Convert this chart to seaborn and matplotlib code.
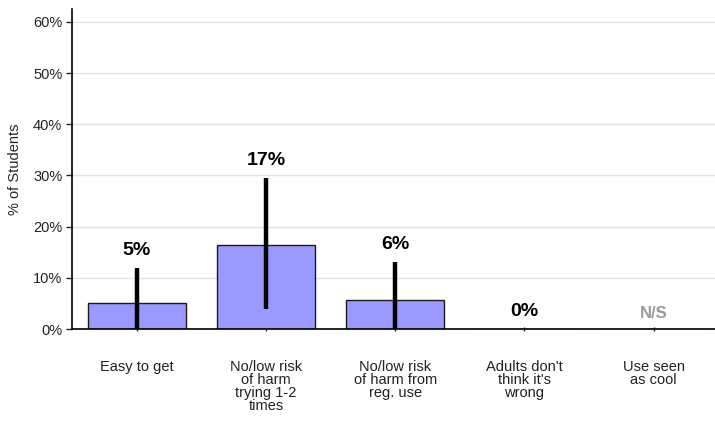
import matplotlib
matplotlib.use("Agg")
import matplotlib.pyplot as plt
import seaborn as sns
import pandas as pd

categories = ["Easy to get",
              "No/low risk\nof harm\ntrying 1-2\ntimes",
              "No/low risk\nof harm from\nreg. use",
              "Adults don't\nthink it's\nwrong",
              "Use seen\nas cool"]
values = [5.0, 16.5, 5.7, 0.0, 0.0]
err_low = [0.0, 3.9, 0.0, 0.0, 0.0]
err_high = [11.9, 29.4, 13.1, 0.0, 0.0]
bar_labels = ["5%", "17%", "6%", "0%", "N/S"]
has_error = [True, True, True, False, False]

df = pd.DataFrame({"category": categories, "value": values})

sns.set_style("white")
plt.rcParams["font.family"] = ["Liberation Sans", "DejaVu Sans"]

fig = plt.figure(figsize=(7.15, 4.21), dpi=100)
ax = fig.add_axes([0.1007, 0.2185, 0.904, 0.7601])

sns.barplot(data=df, x="category", y="value", color="#9999FF",
            saturation=1, width=0.76, edgecolor="#1a1a1a", linewidth=1,
            errorbar=None, ax=ax, zorder=2)

for i in range(len(categories)):
    if has_error[i]:
        ax.vlines(i, err_low[i], err_high[i], color="black", lw=3.2, zorder=3)
    top = max(values[i], err_high[i])
    if bar_labels[i] == "N/S":
        ax.annotate(bar_labels[i], (i, top), xytext=(0, 6), textcoords="offset points",
                    ha="center", va="bottom", fontsize=12, fontweight="bold", color="#999999")
    else:
        ax.annotate(bar_labels[i], (i, top), xytext=(0, 6.5), textcoords="offset points",
                    ha="center", va="bottom", fontsize=14, fontweight="bold", color="black")

ax.set_xlim(-0.5, 4.5)
ax.set_ylim(0, 62.5)
ax.set_yticks(range(0, 61, 10))
ax.set_yticklabels([f"{t}%" for t in range(0, 61, 10)], fontsize=10.5)
ax.set_xticks(range(len(categories)))
ax.set_xticklabels(categories, fontsize=10.5, linespacing=0.9)
ax.set_xlabel("")
ax.set_ylabel("% of Students", fontsize=10.5, labelpad=8)

ax.yaxis.grid(True, color="#e3e3e3", lw=1, zorder=0)
ax.set_axisbelow(True)
sns.despine(ax=ax)
for s in ["left", "bottom"]:
    ax.spines[s].set_color("black")
    ax.spines[s].set_linewidth(1.2)
ax.tick_params(axis="y", left=True, length=4, width=1, pad=3, colors="#222222")
ax.tick_params(axis="x", bottom=True, length=3, width=1, direction="inout", pad=21, colors="#222222")

fig.savefig("out.png", dpi=100)
